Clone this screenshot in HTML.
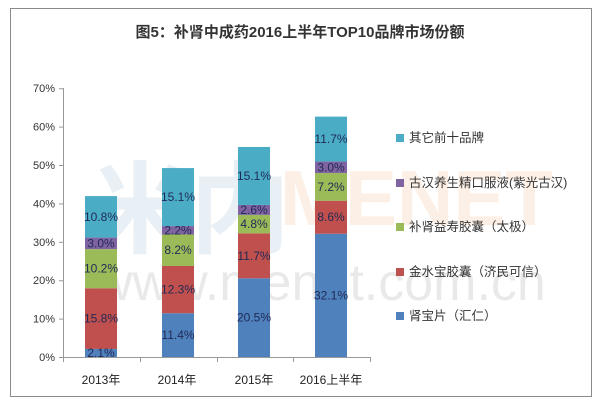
<!DOCTYPE html>
<html><head><meta charset="utf-8"><style>
body{margin:0;background:#fff;}
svg{display:block;font-family:"Liberation Sans","Noto Sans CJK SC",sans-serif;}
</style></head><body>
<svg id="s" width="600" height="404" xmlns="http://www.w3.org/2000/svg">
<rect x="0" y="0" width="600" height="404" fill="#fff"/>
<rect x="10.5" y="8.5" width="581" height="388" fill="#fff" stroke="#8a8a8a" stroke-width="1"/>
<g opacity="0.12">
<text x="90" y="245" font-size="100" font-weight="bold" fill="#4a7fb0" font-family="Noto Sans CJK SC,sans-serif">米内</text>
<text x="280" y="225" font-size="78" font-weight="bold" fill="#e88030">MENET</text>
<text x="95" y="300" font-size="52" fill="#555">www.menet.com.cn</text>
</g>
<text x="300" y="37" text-anchor="middle" font-size="15" font-weight="bold" fill="#333">图5：补肾中成药2016上半年TOP10品牌市场份额</text>
<g font-size="11" fill="#333" text-anchor="end" id="yt"></g>
<line x1="63.5" y1="88" x2="63.5" y2="357" stroke="#999"/>
<line x1="63" y1="357.5" x2="370" y2="357.5" stroke="#999"/>
<g id="bars"></g>
<g font-size="12" fill="#222" text-anchor="middle">
<text x="101" y="384">2013年</text><text x="177" y="384">2014年</text><text x="254" y="384">2015年</text><text x="331" y="384">2016上半年</text>
</g>
<g font-size="12.5" fill="#333">
<rect x="396" y="134" width="8" height="8" fill="#4bacc6"/><text x="409" y="142">其它前十品牌</text>
<rect x="396" y="179" width="8" height="8" fill="#8064a2"/><text x="409" y="187">古汉养生精口服液(紫光古汉)</text>
<rect x="396" y="223" width="8" height="8" fill="#9bbb59"/><text x="409" y="231">补肾益寿胶囊（太极）</text>
<rect x="396" y="268" width="8" height="8" fill="#c0504d"/><text x="409" y="276">金水宝胶囊（济民可信）</text>
<rect x="396" y="312" width="8" height="8" fill="#4f81bd"/><text x="409" y="320">肾宝片（汇仁）</text>
</g>
</svg>
<script>
var ns="http://www.w3.org/2000/svg";
function el(t,a,p,txt){var e=document.createElementNS(ns,t);for(var k in a)e.setAttribute(k,a[k]);if(txt)e.textContent=txt;p.appendChild(e);return e;}
var yt=document.getElementById('yt');
for(var i=0;i<=7;i++){var y=357-i*38.4;el('text',{x:55,y:y+4},yt,(i*10)+'%');el('line',{x1:59,x2:63,y1:y+0.5,y2:y+0.5,stroke:'#999'},document.getElementById('s'));}
[63,140,217,293,370].forEach(function(x){el('line',{x1:x+0.5,x2:x+0.5,y1:357,y2:362,stroke:'#999'},document.getElementById('s'));});
var cols=['#4f81bd','#c0504d','#9bbb59','#8064a2','#4bacc6'];
var data=[[2.1,15.8,10.2,3.0,10.8],[11.4,12.3,8.2,2.2,15.1],[20.5,11.7,4.8,2.6,15.1],[32.1,8.6,7.2,3.0,11.7]];
var xs=[85,162,238,315];var g=document.getElementById('bars');
data.forEach(function(d,j){var c=0;d.forEach(function(v,k){var y0=357-c*3.84,y1=357-(c+v)*3.84;el('rect',{x:xs[j],y:y1,width:32,height:y0-y1,fill:cols[k]},g);c+=v;});
c=0;d.forEach(function(v,k){var ym=357-(c+v/2)*3.84;el('text',{x:xs[j]+16,y:ym+4,'font-size':12,'text-anchor':'middle',fill:'#1f2a55'},g,v.toFixed(1)+'%');c+=v;});});
</script>
</body></html>
